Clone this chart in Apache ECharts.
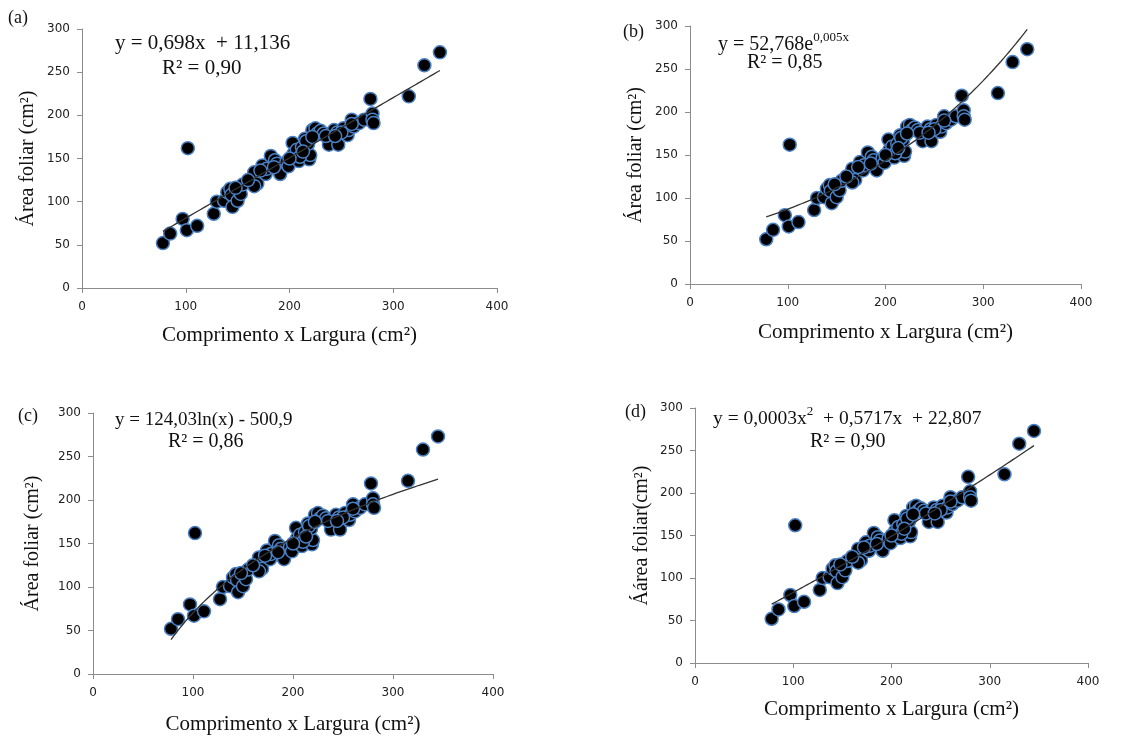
<!DOCTYPE html>
<html>
<head>
<meta charset="utf-8">
<script src="https://cdn.jsdelivr.net/npm/echarts@6/dist/echarts.min.js"></script>
<style>
html,body{margin:0;padding:0;background:#fff;}
#c{width:1129px;height:736px;}
</style>
</head>
<body>
<div id="c"></div>
<script>
// Measured data (Comprimento x Largura, Área foliar) - same in all panels
const xVals = [78,85,97,101,102,111,127,130,137,140,143,144,145,150,153,155,148,166,169,166,174,177,178,182,186,188,191,197,199,203,204,207,209,212,215,219,220,218,222,225,227,230,233,238,240,243,246,247,252,256,257,260,262,267,272,278,280,280,281,315,330,345,216,210,235,250,260,200,185,172,160,213,244,222];
const yVals = [52,63,80,67,162,72,86,100,101,111,115,108,94,101,109,120,116,134,121,118,142,132,138,153,148,144,132,146,141,168,156,160,147,163,173,149,154,167,183,185,179,182,179,166,179,183,180,166,185,177,183,195,187,191,195,219,202,195,191,222,258,273,170,152,176,180,190,150,140,136,125,158,176,175];

// Tick labels
const xTicks = [0,100,200,300,400];
const yTicks = [0,50,100,150,200,250,300];

// Panel texts
const panelLabels = ['(a)','(b)','(c)','(d)'];
const xNames = ['Comprimento x Largura (cm²)','Comprimento x Largura (cm²)','Comprimento x Largura (cm²)','Comprimento x Largura (cm²)'];
const yNames = ['Área foliar (cm²)','Área foliar (cm²)','Área foliar (cm²)','Áárea foliar(cm²)'];
const r2Texts = ['R² = 0,90','R² = 0,85','R² = 0,86','R² = 0,90'];

// Fitted trend line coefficients shown in the chart
const linCoef = [0.698, 11.136];          // y = a x + b
const expCoef = [52.768, 0.005];          // y = a e^(b x)
const logCoef = [124.03, -500.9];         // y = a ln(x) + b
const polyCoef = [0.0003, 0.5717, 22.807];// y = a x^2 + b x + c
const trendRange = [78, 345];

const fits = [
  x => linCoef[0]*x + linCoef[1],
  x => expCoef[0]*Math.exp(expCoef[1]*x),
  x => logCoef[0]*Math.log(x) + logCoef[1],
  x => polyCoef[0]*x*x + polyCoef[1]*x + polyCoef[2]
];

const grids = [
  {left:82, top:29, width:415, height:259},
  {left:690, top:26, width:391, height:258},
  {left:93, top:413, width:400, height:263},
  {left:695, top:408, width:393, height:255}
];
const yNameGaps = [44,44,50,43];
const xNameGaps = [37,38,40,36];

const points = xVals.map((x,i)=>[x,yVals[i]]);
const axisColor = '#8c8c8c';
const serif = '"Liberation Serif","Times New Roman",serif';
const tickFont = '"DejaVu Sans",Verdana,sans-serif';

const option = {
  backgroundColor:'#fff',
  animation:false,
  grid: grids,
  xAxis: grids.map((g,i)=>({
    gridIndex:i, type:'value', min:xTicks[0], max:xTicks[xTicks.length-1], interval:100,
    name:xNames[i], nameLocation:'middle', nameGap:xNameGaps[i],
    nameTextStyle:{fontFamily:serif, fontSize:21, color:'#111'},
    axisLine:{show:true, lineStyle:{color:axisColor, width:1}},
    axisTick:{show:true, length:5, lineStyle:{color:axisColor}},
    axisLabel:{fontFamily:tickFont, fontSize:12, color:'#222', margin:13},
    splitLine:{show:false}
  })),
  yAxis: grids.map((g,i)=>({
    gridIndex:i, type:'value', min:yTicks[0], max:yTicks[yTicks.length-1], interval:50,
    name:yNames[i], nameLocation:'middle', nameGap:yNameGaps[i],
    nameTextStyle:{fontFamily:serif, fontSize:20, color:'#111'},
    axisLine:{show:true, lineStyle:{color:axisColor, width:1}},
    axisTick:{show:true, length:5, lineStyle:{color:axisColor}},
    axisLabel:{fontFamily:tickFont, fontSize:12, color:'#222', margin:12},
    splitLine:{show:false}
  })),
  series: []
};

grids.forEach((g,i)=>{
  option.series.push({
    type:'scatter', xAxisIndex:i, yAxisIndex:i, data:points,
    symbolSize:13,
    itemStyle:{color:'#000', borderColor:'#4a80c4', borderWidth:1.5, opacity:1},
    z:2
  });
  const line = [];
  for (let x = trendRange[0]; x <= trendRange[1]; x += 3) line.push([x, fits[i](x)]);
  line.push([trendRange[1], fits[i](trendRange[1])]);
  option.series.push({
    type:'line', xAxisIndex:i, yAxisIndex:i, data:line, showSymbol:false,
    lineStyle:{color:'#333', width:1.3}, z:3, silent:true
  });
});

function txt(x,y,text,size,extra){
  return Object.assign({type:'text', x:x, y:y, z:10,
    style:{text:text, fontFamily:serif, fontSize:size, fill:'#111', textAlign:'left', textVerticalAlign:'middle'}}, extra||{});
}

option.graphic = [
  txt(8,18,panelLabels[0],18),
  txt(623,32,panelLabels[1],18),
  txt(18,416,panelLabels[2],18),
  txt(625,412,panelLabels[3],18),
  txt(115,43,'y = 0,698x  + 11,136',21),
  txt(162,68,r2Texts[0],21),
  {type:'text', x:718, y:43, z:10, style:{
    text:'{m|y = 52,768e}{s|0,005x}', fontFamily:serif, textAlign:'left', textVerticalAlign:'middle',
    rich:{ m:{fontFamily:serif, fontSize:20, fill:'#111', lineHeight:24, verticalAlign:'bottom'},
           s:{fontFamily:serif, fontSize:13, fill:'#111', lineHeight:24, verticalAlign:'top'} }
  }},
  txt(747,63,r2Texts[1],20),
  txt(115,420,'y = 124,03ln(x) - 500,9',19),
  txt(168,442,r2Texts[2],20),
  {type:'text', x:713, y:417, z:10, style:{
    text:'{m|y = 0,0003x}{s|2}{m|  + 0,5717x  + 22,807}', fontFamily:serif, textAlign:'left', textVerticalAlign:'middle',
    rich:{ m:{fontFamily:serif, fontSize:19.5, fill:'#111', lineHeight:24, verticalAlign:'bottom'},
           s:{fontFamily:serif, fontSize:13, fill:'#111', lineHeight:24, verticalAlign:'top'} }
  }},
  txt(810,442,r2Texts[3],20)
];

const chart = echarts.init(document.getElementById('c'), null, {renderer:'canvas'});
chart.setOption(option);
</script>
</body>
</html>
